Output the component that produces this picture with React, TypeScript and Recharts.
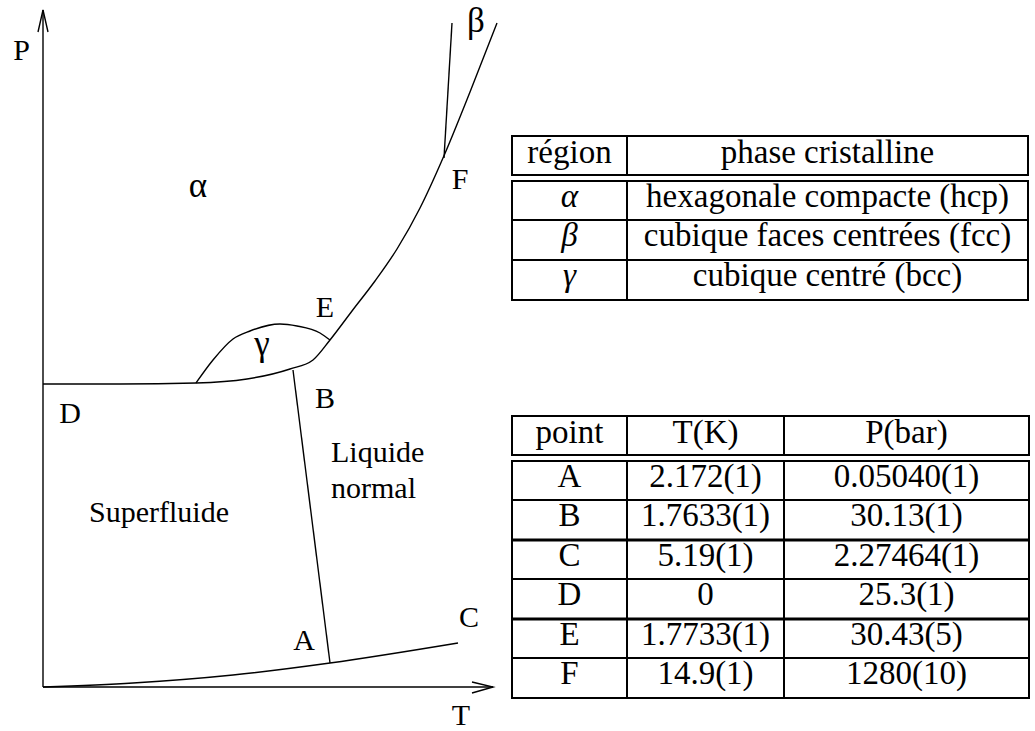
import React from 'react';
import { ComposedChart, Line, Scatter, XAxis, YAxis } from 'recharts';

// Schematic diagram units: t (temperature axis), p (pressure axis)
const vaporCurve = [[0, 0], [90, 4], [190, 12], [287, 24], [415, 44]];
const lambdaLine = [[287, 24], [250, 317]];
const meltingCurve = [[0, 303], [77, 303], [153, 304], [204, 308], [247, 318], [270, 327], [287, 347], [309, 376], [332, 406], [354, 438], [377, 479], [400, 529], [427, 595], [454, 664]];
const gammaUpper = [[153, 304], [170, 327], [190, 348], [207, 356], [237, 363], [254, 361], [277, 354], [287, 347]];
const betaLine = [[401, 529], [409, 664]];
const pAxis = [[0, 0], [0, 677]];
const pArrow = [[-5, 655], [0, 677], [5, 655]];
const tAxis = [[0, 0], [450, 0]];
const tArrow = [[429, 5], [450, 0], [429, -6]];

const labelTexts = ['P', 'α', 'β', 'γ', 'F', 'E', 'B', 'D', 'Liquide', 'normal', 'Superfluide', 'A', 'C', 'T'];
const labelT = [-21.5, 155, 433, 219, 417, 282, 282, 27, 288, 288, 46, 261, 426, 418];
const labelP = [627, 490, 655, 332.5, 498, 370, 279, 264, 225, 189, 165, 37, 60, -38];
const labelAnchor = ['middle', 'middle', 'middle', 'middle', 'middle', 'middle', 'middle', 'middle', 'start', 'start', 'start', 'middle', 'middle', 'middle'];

const phaseHeader = ['région', 'phase cristalline'];
const phaseSymbols = ['α', 'β', 'γ'];
const phaseNames = ['hexagonale compacte (hcp)', 'cubique faces centrées (fcc)', 'cubique centré (bcc)'];

const pointHeader = ['point', 'T(K)', 'P(bar)'];
const pointNames = ['A', 'B', 'C', 'D', 'E', 'F'];
const pointT = ['2.172(1)', '1.7633(1)', '5.19(1)', '0', '1.7733(1)', '14.9(1)'];
const pointP = ['0.05040(1)', '30.13(1)', '2.27464(1)', '25.3(1)', '30.43(5)', '1280(10)'];

const toXY = (arr: number[][]) => arr.map(([t, p]) => ({ t, p }));
const labels = labelTexts.map((text, i) => ({ t: labelT[i], p: labelP[i], text, anchor: labelAnchor[i] }));

const W = 1035;
const H = 731;
const LINE = { stroke: '#000', strokeWidth: 1.4, dot: false, activeDot: false, isAnimationActive: false } as any;
const SERIF = '"Liberation Serif", "Times New Roman", serif';
const GREEK = /[α-ω]/;

const LabelShape = (props: any) => {
  const { cx, cy, payload } = props;
  const size = GREEK.test(payload.text) ? 35 : 30;
  return (
    <text x={cx} y={cy} textAnchor={payload.anchor} fontFamily={SERIF} fontSize={size} fill="#000">
      {payload.text}
    </text>
  );
};

type TableProps = {
  x: number[];
  headerTop: number;
  headerBottom: number;
  rowTops: number[];
  thick: number[];
  header: string[];
  rows: string[][];
  italicFirst?: boolean;
};

const TableSvg = ({ x, headerTop, headerBottom, rowTops, thick, header, rows, italicFirst }: TableProps) => {
  const left = x[0];
  const right = x[x.length - 1];
  const bodyTop = rowTops[0];
  const bodyBottom = rowTops[rowTops.length - 1];
  const centers = x.slice(0, -1).map((v, i) => (v + x[i + 1]) / 2);
  const sw = 2;
  return (
    <g>
      <rect x={left} y={headerTop} width={right - left} height={headerBottom - headerTop} fill="none" stroke="#000" strokeWidth={sw} />
      <rect x={left} y={bodyTop} width={right - left} height={bodyBottom - bodyTop} fill="none" stroke="#000" strokeWidth={sw} />
      {x.slice(1, -1).map((v, i) => (
        <g key={'v' + i}>
          <line x1={v} x2={v} y1={headerTop} y2={headerBottom} stroke="#000" strokeWidth={sw} />
          <line x1={v} x2={v} y1={bodyTop} y2={bodyBottom} stroke="#000" strokeWidth={sw} />
        </g>
      ))}
      {rowTops.slice(1, -1).map((y, i) => (
        <line key={'h' + i} x1={left} x2={right} y1={y} y2={y} stroke="#000" strokeWidth={thick.includes(i + 1) ? 3 : sw} />
      ))}
      {header.map((h, i) => (
        <text key={'hd' + i} x={centers[i]} y={headerTop + 27} textAnchor="middle" fontFamily={SERIF} fontSize={33} fill="#000">
          {h}
        </text>
      ))}
      {rows.map((r, ri) =>
        r.map((c, ci) => (
          <text
            key={'c' + ri + '-' + ci}
            x={centers[ci]}
            y={rowTops[ri] + 26}
            textAnchor="middle"
            fontFamily={SERIF}
            fontStyle={italicFirst && ci === 0 ? 'italic' : 'normal'}
            fontSize={33}
            fill="#000"
          >
            {c}
          </text>
        ))
      )}
    </g>
  );
};

export default function App() {
  const phaseRows = phaseSymbols.map((s, i) => [s, phaseNames[i]]);
  const pointRows = pointNames.map((n, i) => [n, pointT[i], pointP[i]]);
  return (
    <div style={{ position: 'absolute', left: 0, top: 0, width: W, height: H, background: '#fff' }}>
      <ComposedChart width={W} height={H} margin={{ top: 0, right: 0, bottom: 0, left: 0 }}>
        <XAxis type="number" dataKey="t" domain={[-43, 992]} allowDataOverflow hide />
        <YAxis type="number" dataKey="p" domain={[-44, 687]} allowDataOverflow hide />
        <Line data={toXY(pAxis)} dataKey="p" type="linear" {...LINE} />
        <Line data={toXY(pArrow)} dataKey="p" type="linear" {...LINE} />
        <Line data={toXY(tAxis)} dataKey="p" type="linear" {...LINE} />
        <Line data={toXY(tArrow)} dataKey="p" type="linear" {...LINE} />
        <Line data={toXY(vaporCurve)} dataKey="p" type="monotone" {...LINE} />
        <Line data={toXY(lambdaLine)} dataKey="p" type="linear" {...LINE} />
        <Line data={toXY(meltingCurve)} dataKey="p" type="monotone" {...LINE} />
        <Line data={toXY(gammaUpper)} dataKey="p" type="monotone" {...LINE} />
        <Line data={toXY(betaLine)} dataKey="p" type="linear" {...LINE} />
        <Scatter data={labels} dataKey="p" shape={<LabelShape />} isAnimationActive={false} />
      </ComposedChart>
      <svg width={W} height={H} style={{ position: 'absolute', left: 0, top: 0, pointerEvents: 'none' }}>
        <TableSvg
          x={[512, 627, 1028]}
          headerTop={136}
          headerBottom={175}
          rowTops={[181, 220, 260, 300]}
          thick={[]}
          header={phaseHeader}
          rows={phaseRows}
          italicFirst
        />
        <TableSvg
          x={[512, 627, 784, 1029]}
          headerTop={416}
          headerBottom={455}
          rowTops={[461, 500, 540, 579, 619, 658, 698]}
          thick={[2, 4]}
          header={pointHeader}
          rows={pointRows}
        />
      </svg>
    </div>
  );
}
